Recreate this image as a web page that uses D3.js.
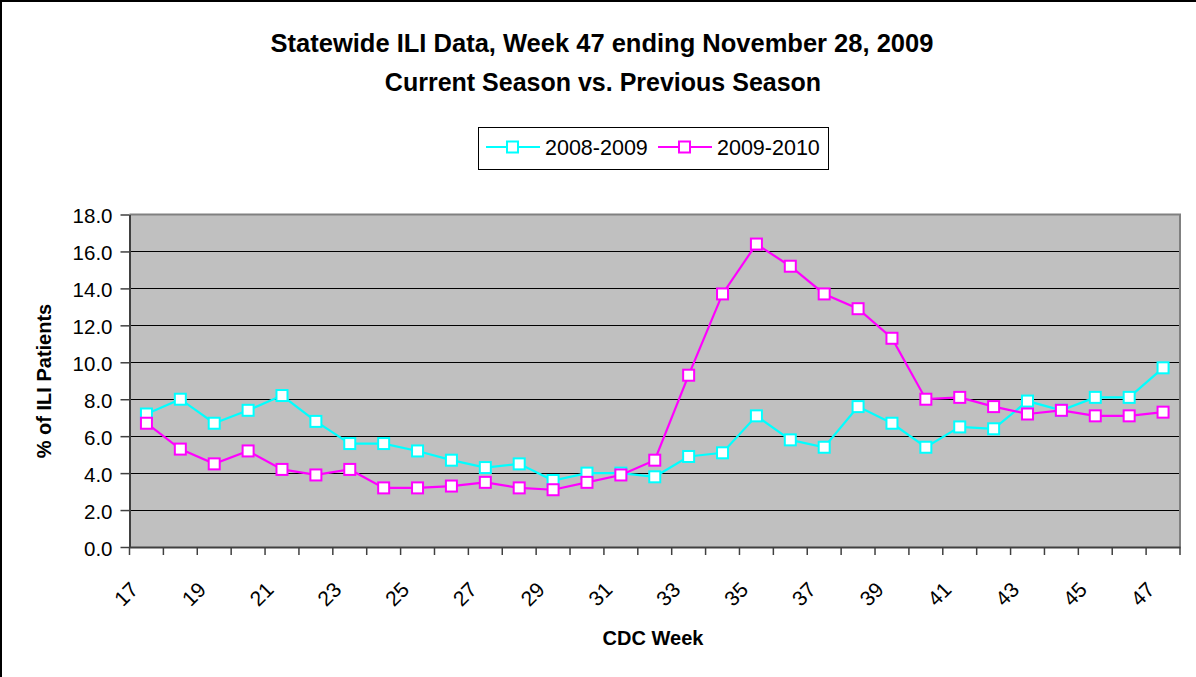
<!DOCTYPE html>
<html>
<head>
<meta charset="utf-8">
<script src="https://cdnjs.cloudflare.com/ajax/libs/d3/7.8.5/d3.min.js"></script>
<style>
  body { margin: 0; background: #fff; }
  svg { display: block; font-family: 'Liberation Sans', Arial, sans-serif; }
</style>
</head>
<body>
<div id="chart"></div>
<script>
var weeks = d3.range(17, 48);
var season0809 = [7.2, 8.0, 6.7, 7.4, 8.2, 6.8, 5.6, 5.6, 5.2, 4.7, 4.3, 4.5, 3.6, 4.0, 4.0, 3.8,
    4.9, 5.1, 7.1, 5.8, 5.4, 7.6, 6.7, 5.4, 6.5, 6.4, 7.9, 7.4, 8.1, 8.1, 9.7];
var season0910 = [6.7, 5.3, 4.5, 5.2, 4.2, 3.9, 4.2, 3.2, 3.2, 3.3, 3.5, 3.2, 3.1, 3.5, 3.9, 4.7,
    9.3, 13.7, 16.4, 15.2, 13.7, 12.9, 11.3, 8.0, 8.1, 7.6, 7.2, 7.4, 7.1, 7.1, 7.3];
var seriesNames = ['2008-2009', '2009-2010'];
var seriesColors = ['#00FFFF', '#FF00FF'];
var yTicks = [0, 2, 4, 6, 8, 10, 12, 14, 16, 18];

var width = 1196, height = 677;
var plot = { left: 129.5, right: 1180, top: 214.5, bottom: 547 };

var svg = d3.select('#chart').append('svg')
    .attr('width', width)
    .attr('height', height);

/* outer chart frame (only top and left edges visible) */
svg.append('path')
    .attr('d', 'M1,' + height + 'V1H' + width)
    .attr('fill', 'none')
    .attr('stroke', '#000')
    .attr('stroke-width', 2);

var x = d3.scaleBand().domain(weeks).range([plot.left, plot.right]);
var y = d3.scaleLinear().domain([0, 18]).range([plot.bottom, plot.top]);
var bw = x.bandwidth();
var cx = function(d, i) { return x(weeks[i]) + bw / 2; };

/* plot background */
svg.append('rect')
    .attr('x', plot.left)
    .attr('y', plot.top)
    .attr('width', plot.right - plot.left)
    .attr('height', plot.bottom - plot.top)
    .attr('fill', '#C0C0C0');

/* gridlines */
svg.append('g')
    .selectAll('line')
    .data(yTicks.filter(function(t) { return t > 0 && t < 18; }))
    .enter().append('line')
    .attr('x1', plot.left)
    .attr('x2', plot.right)
    .attr('y1', function(d) { return Math.round(y(d)) + 0.5; })
    .attr('y2', function(d) { return Math.round(y(d)) + 0.5; })
    .attr('stroke', '#000')
    .attr('stroke-width', 1);

/* top / right border of plot area */
svg.append('path')
    .attr('d', 'M' + plot.left + ',' + plot.top + 'H' + plot.right + 'V' + plot.bottom)
    .attr('fill', 'none')
    .attr('stroke', '#808080')
    .attr('stroke-width', 2);

/* y axis */
var yAxis = svg.append('g')
    .attr('transform', 'translate(' + plot.left + ',0)')
    .call(d3.axisLeft(y).tickValues(yTicks).tickFormat(d3.format('.1f')).tickSize(9).tickPadding(8).tickSizeOuter(0));
yAxis.select('.domain').attr('stroke', '#404040').attr('stroke-width', 2);
yAxis.selectAll('.tick line').attr('stroke', '#404040').attr('stroke-width', 1.5);
yAxis.selectAll('.tick text')
    .attr('font-size', 20.5)
    .attr('font-family', "'Liberation Sans', Arial, sans-serif")
    .attr('fill', '#000')
    .attr('dy', '0.4em');

/* x axis: ticks between categories, labels on every other week */
var xAxis = svg.append('g')
    .attr('transform', 'translate(0,' + plot.bottom + ')')
    .call(d3.axisBottom(x).tickSize(8).tickSizeOuter(0));
xAxis.select('.domain').attr('stroke', '#404040').attr('stroke-width', 2);
xAxis.selectAll('.tick line')
    .attr('stroke', '#404040')
    .attr('stroke-width', 1.5)
    .attr('transform', 'translate(' + (-bw / 2) + ',0)');
xAxis.append('line')
    .attr('x1', plot.right).attr('x2', plot.right)
    .attr('y1', 0).attr('y2', 8)
    .attr('stroke', '#404040')
    .attr('stroke-width', 1.5);
xAxis.selectAll('.tick text')
    .attr('font-size', 21)
    .attr('font-family', "'Liberation Sans', Arial, sans-serif")
    .attr('fill', '#000')
    .attr('text-anchor', 'end')
    .attr('y', 0)
    .attr('dy', 0)
    .attr('transform', 'translate(-7,44) rotate(-45)')
    .style('display', function(d) { return (d - 17) % 2 === 0 ? null : 'none'; });

/* series lines + markers */
var seriesData = [season0809, season0910];
seriesData.forEach(function(values, si) {
    var line = d3.line()
        .x(cx)
        .y(function(d) { return y(d); });

    svg.append('path')
        .datum(values)
        .attr('d', line)
        .attr('fill', 'none')
        .attr('stroke', seriesColors[si])
        .attr('stroke-width', 2.2);

    svg.append('g')
        .selectAll('rect')
        .data(values)
        .enter().append('rect')
        .attr('x', function(d, i) { return cx(d, i) - 5.5; })
        .attr('y', function(d) { return y(d) - 5.5; })
        .attr('width', 11)
        .attr('height', 11)
        .attr('fill', '#fff')
        .attr('stroke', seriesColors[si])
        .attr('stroke-width', 2);
});

/* titles */
svg.append('text')
    .attr('x', 602)
    .attr('y', 52)
    .attr('text-anchor', 'middle')
    .attr('font-weight', 'bold')
    .attr('font-size', 25.5)
    .text('Statewide ILI Data, Week 47 ending November 28, 2009');
svg.append('text')
    .attr('x', 603)
    .attr('y', 91)
    .attr('text-anchor', 'middle')
    .attr('font-weight', 'bold')
    .attr('font-size', 25)
    .text('Current Season vs. Previous Season');

svg.append('text')
    .attr('transform', 'translate(51,381) rotate(-90)')
    .attr('text-anchor', 'middle')
    .attr('font-weight', 'bold')
    .attr('font-size', 20)
    .text('% of ILI Patients');
svg.append('text')
    .attr('x', 653)
    .attr('y', 645)
    .attr('text-anchor', 'middle')
    .attr('font-weight', 'bold')
    .attr('font-size', 20)
    .text('CDC Week');

/* legend */
var legend = svg.append('g');
legend.append('rect')
    .attr('x', 478.5)
    .attr('y', 127.5)
    .attr('width', 350)
    .attr('height', 42)
    .attr('fill', '#fff')
    .attr('stroke', '#000')
    .attr('stroke-width', 1);

var legendX = [486, 658];
var item = legend.selectAll('g.item')
    .data(seriesNames)
    .enter().append('g')
    .attr('class', 'item')
    .attr('transform', function(d, i) { return 'translate(' + legendX[i] + ',147)'; });
item.append('line')
    .attr('x1', 0).attr('x2', 54)
    .attr('stroke', function(d, i) { return seriesColors[i]; })
    .attr('stroke-width', 2);
item.append('rect')
    .attr('x', 21).attr('y', -5.5)
    .attr('width', 11).attr('height', 11)
    .attr('fill', '#fff')
    .attr('stroke', function(d, i) { return seriesColors[i]; })
    .attr('stroke-width', 2);
item.append('text')
    .attr('x', 59)
    .attr('y', 8)
    .attr('font-size', 21.5)
    .text(function(d) { return d; });
</script>
</body>
</html>
